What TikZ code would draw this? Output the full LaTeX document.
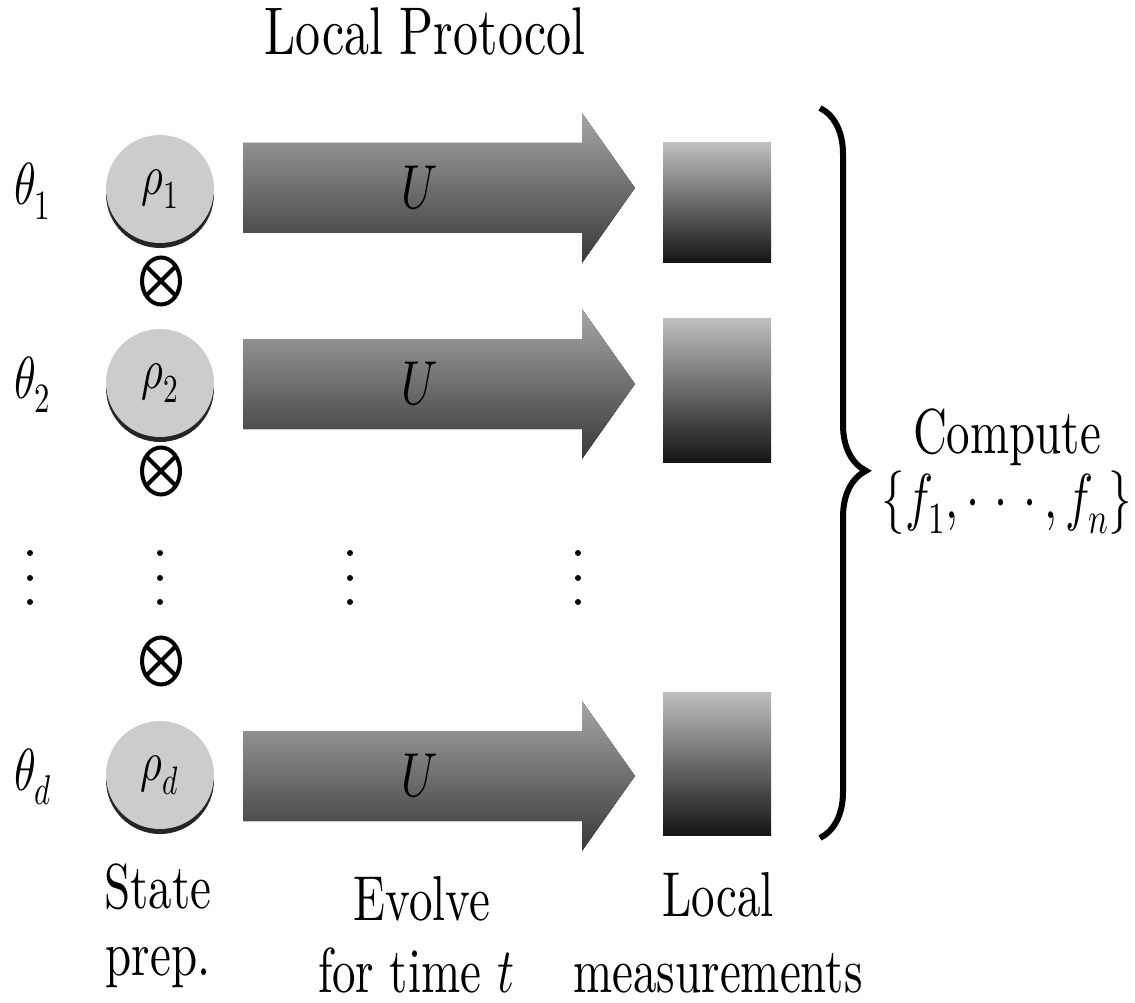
\documentclass[tikz,border=0pt]{standalone}
\usepackage{fontspec}
\usepackage{unicode-math}
\setmainfont{lmroman10-regular.otf}[ItalicFont=lmroman10-italic.otf, BoldFont=lmroman10-bold.otf]
\usepackage{graphicx}
\usetikzlibrary{shapes.geometric,decorations.pathreplacing}
\newcommand\vst[1]{\scalebox{1}[1.35]{#1}}
\begin{document}
\begin{tikzpicture}[x=1pt,y=-1pt,
  txt/.style={inner sep=0pt, font=\fontsize{47}{56}\selectfont},
  statenode/.style={circle, minimum size=108pt, inner sep=0pt, fill=black!20, font=\fontsize{42}{50}\selectfont},
  shadowfill/.style={fill=black!85},
  evolve/.style={top color=black!35, middle color=black!45, bottom color=black!78},
  measbox/.style={top color=black!25, bottom color=black!92},
  tensor/.style={ellipse, draw, line width=4pt, minimum width=38pt, minimum height=47pt, inner sep=0pt, outer sep=0pt},
  cross/.style={line width=4pt},
  vdot/.style={fill=black},
  bracestyle/.style={line width=6pt, decorate, decoration={brace, amplitude=46pt, aspect=0.497}}
]
\useasboundingbox (0,0) rectangle (1135,1003);

% title
\node[txt, font=\fontsize{50}{60}\selectfont, anchor=base] (title) at (425,55) {\vst{Local Protocol}};

% theta labels
\node[txt, font=\fontsize{44}{52}\selectfont, anchor=base west] (t1) at (14,205) {\vst{$\theta_1$}};
\node[txt, font=\fontsize{44}{52}\selectfont, anchor=base west] (t2) at (14,398) {\vst{$\theta_2$}};
\node[txt, font=\fontsize{44}{52}\selectfont, anchor=base west] (td) at (14,790) {\vst{$\theta_d$}};

% states
\fill[shadowfill] (160,194) circle (54);
\node[statenode] (r1) at (160,189) {\vst{$\rho_1$}};
\fill[shadowfill] (160,388) circle (54);
\node[statenode] (r2) at (160,383) {\vst{$\rho_2$}};
\fill[shadowfill] (160,780) circle (54);
\node[statenode] (rd) at (160,775) {\vst{$\rho_d$}};

% tensor symbols
\node[tensor] (o1) at (161,281) {};
\draw[cross] (o1.45) -- (o1.225) (o1.135) -- (o1.315);
\node[tensor] (o2) at (161,471) {};
\draw[cross] (o2.45) -- (o2.225) (o2.135) -- (o2.315);
\node[tensor] (o3) at (161,661) {};
\draw[cross] (o3.45) -- (o3.225) (o3.135) -- (o3.315);

% evolution arrows
\foreach \c/\n in {188/u1,384/u2,776/ud}{
  \fill[evolve] (243,\c-45) -- (582,\c-45) -- (582,\c-75) -- (635,\c) -- (582,\c+75) -- (582,\c+45) -- (243,\c+45) -- cycle;
  \node[txt, font=\fontsize{46}{54}\selectfont] (\n) at (420,\c) {\vst{$U$}};
}

% measurement boxes
\path[measbox] (663,143) rectangle (771,262);
\node[inner sep=0pt] (m1) at (717,202) {};
\path[measbox] (663,318) rectangle (771,462);
\node[inner sep=0pt] (m2) at (717,390) {};
\path[measbox] (663,692) rectangle (771,835);
\node[inner sep=0pt] (md) at (717,763) {};

% vertical dots
\foreach \x in {30,160,350,578}{
  \foreach \y in {553,578,602}{
    \fill[vdot] (\x,\y) circle (3);
  }
}

% brace
\coordinate (bt) at (820,108);
\coordinate (bb) at (820,838);
\draw[bracestyle] (bt) -- (bb);

% compute
\node[txt, anchor=base] (comp) at (1007,453) {\vst{Compute}};
\node[txt, anchor=base] (fset) at (1007,518) {\vst{$\{f_1,\mathord{\cdot}\mkern6mu\mathord{\cdot}\mkern6mu\mathord{\cdot}\,,f_n\}$}};

% bottom labels
\node[txt, anchor=base] (s1) at (158,908) {\vst{State}};
\node[txt, anchor=base] (s2) at (158,975) {\vst{prep.}};
\node[txt, anchor=base] (e1) at (422,920) {\vst{Evolve}};
\node[txt, anchor=base] (e2) at (416,992) {\vst{for time $t$}};
\node[txt, anchor=base] (l1) at (718,916) {\vst{Local}};
\node[txt, anchor=base] (l2) at (718,992) {\vst{measurements}};
\end{tikzpicture}
\end{document}
